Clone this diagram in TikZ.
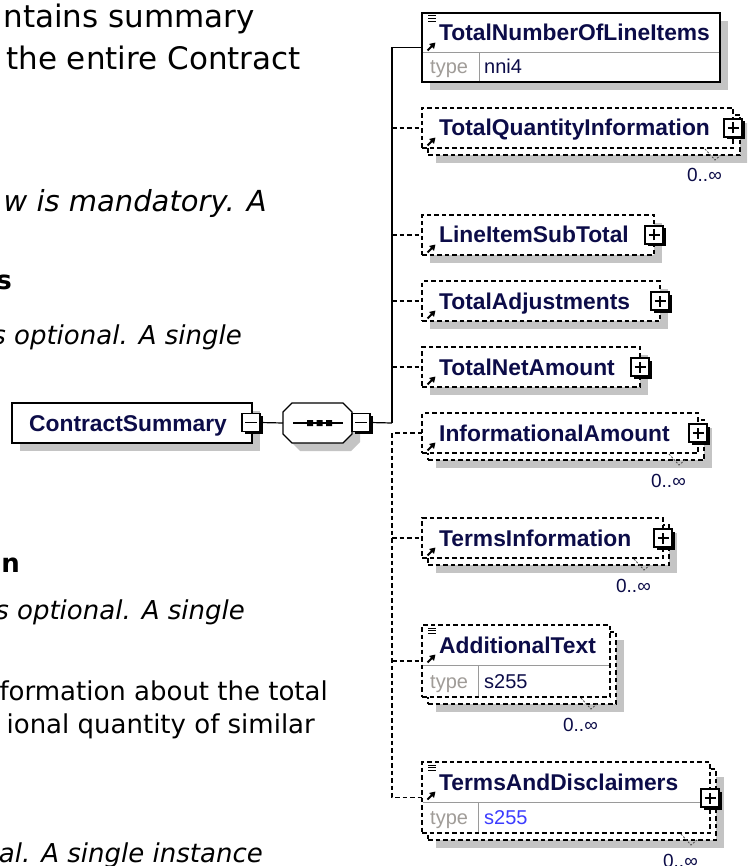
\documentclass[tikz,border=0pt]{standalone}
\usepackage{fontspec}
\setmainfont{DejaVu Sans}[ItalicFont={DejaVu Sans Oblique},BoldFont={DejaVu Sans Bold}]
\newfontfamily\libsans{Liberation Sans}
\usetikzlibrary{arrows.meta,shadows}
\definecolor{navy}{HTML}{0C0C48}
\definecolor{shadowgray}{HTML}{C4C4C4}
\definecolor{sepgray}{HTML}{9A9A9A}
\definecolor{typegray}{HTML}{A09C98}
\definecolor{valblue}{HTML}{3C3CFF}
\newcommand\mkarrow[2]{\draw[line width=1.8pt,-{Triangle[length=5.5pt,width=6.5pt]}] (#1+5.5,#2-2.5) -- (#1+13.5,#2-10.5);}
\newcommand\mklines[2]{\draw[line width=1pt] (#1+6,#2+3) -- (#1+14,#2+3) (#1+6,#2+5.7) -- (#1+14,#2+5.7) (#1+6,#2+8.4) -- (#1+14,#2+8.4);}
\newcommand\mkmark[2]{\draw[line width=0.8pt,dash pattern=on 2pt off 1.5pt,black!70] (#1-35,#2-6) -- (#1-25,#2+5) -- (#1-19,#2);}
\tikzset{
  conn/.style={draw=black, line width=1.2pt},
  dconn/.style={conn, dash pattern=on 4.5pt off 3pt},
  ebox/.style={draw=black, line width=1.2pt, fill=white, anchor=north west, inner sep=0pt, outer sep=0pt},
  optbox/.style={ebox, dash pattern=on 4.5pt off 3pt},
  shad/.style={drop shadow={shadow xshift=8pt, shadow yshift=-8pt, fill=shadowgray, opacity=1}},
  expbox/.style={draw=black, line width=1.1pt, fill=white, minimum size=18pt, inner sep=0pt, outer sep=0pt,
    drop shadow={shadow xshift=2.5pt, shadow yshift=-2.5pt, fill=black, opacity=1}},
  plusbox/.style={expbox, path picture={\draw[line width=1.1pt,black]
    ([xshift=-5.5pt]path picture bounding box.center) -- ([xshift=5.5pt]path picture bounding box.center)
    ([yshift=-5.5pt]path picture bounding box.center) -- ([yshift=5.5pt]path picture bounding box.center);}},
  minusbox/.style={expbox, path picture={\draw[line width=1.1pt,black]
    ([xshift=-6pt]path picture bounding box.center) -- ([xshift=6pt]path picture bounding box.center);}},
  namefont/.style={font=\libsans\fontsize{22.8}{26}\selectfont\bfseries, text=navy, inner sep=0pt, anchor=base west},
  smallfont/.style={font=\libsans\fontsize{20}{24}\selectfont, inner sep=0pt, anchor=base west},
  cardfont/.style={font=\libsans\fontsize{19}{22}\selectfont, text=navy, inner sep=0pt, anchor=base east},
  sepline/.style={draw=sepgray, line width=1pt},
  desc/.style={inner sep=0pt, anchor=base east, text=black}
}
\begin{document}
\begin{tikzpicture}[x=1pt,y=-1pt]
\useasboundingbox (0,0) rectangle (747,866);
\clip (0,0) rectangle (747,866);
\fill[white] (0,0) rectangle (747,866);

% ---------- description text (cut at the left edge) ----------
\node[desc, font=\fontsize{31}{37}\selectfont] (l1) at (255,28) {ntains summary};
\node[desc, font=\fontsize{31}{37}\selectfont] (l2) at (301,70) {the entire Contract};
\node[desc, font=\fontsize{29}{35}\selectfont\itshape] (l3) at (267,212) {w is mandatory. A};
\node[desc, font=\fontsize{26}{31}\selectfont\bfseries] (l4) at (12,290) {s};
\node[desc, font=\fontsize{26}{31}\selectfont\itshape] (l5) at (242,344) {s optional. A single};
\node[desc, font=\fontsize{26}{31}\selectfont\bfseries] (l6) at (20,572) {on};
\node[desc, font=\fontsize{26}{31}\selectfont\itshape] (l7) at (245,619) {s optional. A single};
\node[desc, font=\fontsize{26}{31}\selectfont] (l8) at (328,700) {formation about the total};
\node[desc, font=\fontsize{26}{31}\selectfont] (l9) at (315,733) {ional quantity of similar};
\node[desc, font=\fontsize{26}{31}\selectfont\itshape] (l10) at (263,862) {al. A single instance};

% ---------- ContractSummary ----------
\node[ebox, shad, minimum width=240pt, minimum height=40pt] (cs) at (12,403) {};
\node[namefont] (cst) at (29,431) {ContractSummary};
\node[minusbox] (csminus) at (251,422.5) {};

% ---------- sequence compositor ----------
\fill[shadowgray] (300,411) -- (351,411) -- (360,420) -- (360,442) -- (351,451) -- (300,451) -- (291,442) -- (291,420) -- cycle;
\draw[fill=white, line width=1.2pt] (292,403) -- (343,403) -- (352,412) -- (352,434) -- (343,443) -- (292,443) -- (283,434) -- (283,412) -- cycle;
\node[minimum width=69pt, minimum height=40pt, inner sep=0pt, outer sep=0pt] (seq) at (317.5,423) {};
\draw[line width=1.2pt] (293,423) -- (343,423);
\fill (307,420) rectangle (313,426) (316.5,420) rectangle (322.5,426) (326,420) rectangle (332,426);
\node[minusbox] (seqminus) at (361,422.5) {};
\coordinate (spine) at (392,423);

% ---------- TotalNumberOfLineItems ----------
\node[ebox, shad, minimum width=298pt, minimum height=69pt] (tnoli) at (422,13) {};
\draw[sepline] (422.6,53) -- (719.4,53) (479,53) -- (479,81.4);
\mklines{422}{13}
\mkarrow{422}{53}
\node[namefont] (tnolit) at (439,41) {TotalNumberOfLineItems};
\node[smallfont, text=typegray] (tnoliy) at (430,74) {type};
\node[smallfont, text=navy] (tnoliv) at (484,74) {nni4};

% ---------- TotalQuantityInformation ----------
\node[optbox, shad, minimum width=312pt, minimum height=40pt] (tqib) at (428,115) {};
\node[optbox, minimum width=311pt, minimum height=40pt] (tqi) at (422,108) {};
\mkarrow{422}{148}
\node[namefont] (tqit) at (439,136) {TotalQuantityInformation};
\node[plusbox] (tqip) at (733,128) {};
\mkmark{740}{155}
\node[cardfont] (tqic) at (722,182) {0..∞};

% ---------- LineItemSubTotal ----------
\node[optbox, shad, minimum width=232pt, minimum height=40pt] (lis) at (422,215) {};
\mkarrow{422}{255}
\node[namefont] (list) at (439,243) {LineItemSubTotal};
\node[plusbox] (lisp) at (654,235) {};

% ---------- TotalAdjustments ----------
\node[optbox, shad, minimum width=238pt, minimum height=40pt] (ta) at (422,281) {};
\mkarrow{422}{321}
\node[namefont] (tat) at (439,309) {TotalAdjustments};
\node[plusbox] (tap) at (660,301) {};

% ---------- TotalNetAmount ----------
\node[optbox, shad, minimum width=218pt, minimum height=40pt] (tna) at (422,347) {};
\mkarrow{422}{387}
\node[namefont] (tnat) at (439,375) {TotalNetAmount};
\node[plusbox] (tnap) at (640,367) {};

% ---------- InformationalAmount ----------
\node[optbox, shad, minimum width=276pt, minimum height=40pt] (iab) at (428,420) {};
\node[optbox, minimum width=276pt, minimum height=40pt] (ia) at (422,413) {};
\mkarrow{422}{453}
\node[namefont] (iat) at (439,441) {InformationalAmount};
\node[plusbox] (iap) at (698,433) {};
\mkmark{704}{460}
\node[cardfont] (iac) at (686,487) {0..∞};

% ---------- TermsInformation ----------
\node[optbox, shad, minimum width=241pt, minimum height=40pt] (tib) at (428,525) {};
\node[optbox, minimum width=241pt, minimum height=40pt] (ti) at (422,518) {};
\mkarrow{422}{558}
\node[namefont] (tit) at (439,546) {TermsInformation};
\node[plusbox] (tip) at (663,538) {};
\mkmark{669}{565}
\node[cardfont] (tic) at (651,592) {0..∞};

% ---------- AdditionalText ----------
\node[optbox, shad, minimum width=188pt, minimum height=72pt] (atb) at (428,632) {};
\node[optbox, minimum width=188pt, minimum height=72pt] (at) at (422,625) {};
\draw[sepline] (422.6,665) -- (609.4,665) (478,665) -- (478,696.4);
\mklines{422}{625}
\mkarrow{422}{665}
\node[namefont] (att) at (439,653) {AdditionalText};
\node[smallfont, text=typegray] (aty) at (430,688) {type};
\node[smallfont, text=navy] (atv) at (484,688) {s255};
\mkmark{616}{704}
\node[cardfont] (atc) at (598,731) {0..∞};

% ---------- TermsAndDisclaimers ----------
\node[optbox, shad, minimum width=288pt, minimum height=71pt] (tadb) at (428,769) {};
\node[optbox, minimum width=288pt, minimum height=71pt] (tad) at (422,762) {};
\draw[sepline] (422.6,802) -- (709.4,802) (478,802) -- (478,832.4);
\mklines{422}{762}
\mkarrow{422}{802}
\node[namefont] (tadt) at (439,790) {TermsAndDisclaimers};
\node[smallfont, text=typegray] (tady) at (430,824) {type};
\node[smallfont, text=valblue] (tadv) at (484,824) {s255};
\node[plusbox] (tadp) at (710,798) {};
\mkmark{716}{840}
\node[cardfont] (tadc) at (698,867) {0..∞};

% ---------- connectors ----------
\draw[conn] (csminus.east) -- (seq.west);
\draw[conn] (seqminus.east) -- (spine);
\draw[conn] (spine) -- (spine |- tnoli.west) -- (tnoli.west);
\draw[dconn] (spine |- tqi.west) -- (tqi.west);
\draw[dconn] (spine |- lis.west) -- (lis.west);
\draw[dconn] (spine |- ta.west) -- (ta.west);
\draw[dconn] (spine |- tna.west) -- (tna.west);
\draw[dconn] (ia.west) -- (spine |- ia.west) -- (spine |- tad.west) -- (tad.west);
\draw[dconn] (spine |- ti.west) -- (ti.west);
\draw[dconn] (spine |- at.west) -- (at.west);
\end{tikzpicture}
\end{document}
